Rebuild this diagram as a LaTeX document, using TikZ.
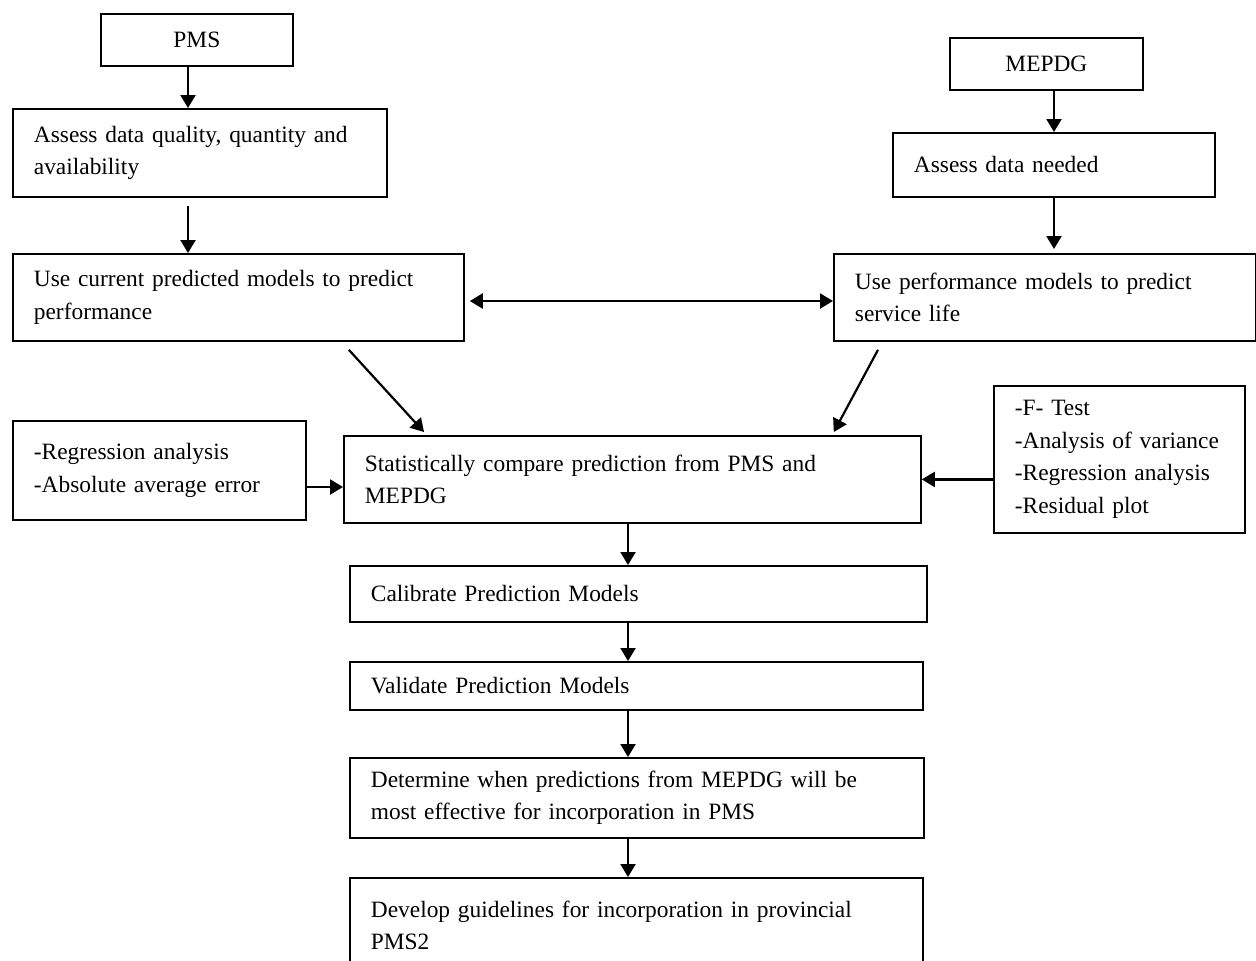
\documentclass[tikz,border=0pt]{standalone}
\usepackage{fontspec}
\setmainfont{Liberation Serif}
\usepackage{tikz}
\usetikzlibrary{positioning, arrows.meta, calc}
\hyphenpenalty=10000

\tikzset{
  box/.style={draw, line width=0.9pt, anchor=north west, align=left,
    inner xsep=10.5pt, inner ysep=0pt, minimum width=#1, text width=#1-21pt,
    font=\fontsize{11.7}{16.3}\selectfont},
  tbox/.style={draw, line width=0.9pt, anchor=north west, align=center,
    inner sep=0pt, minimum width=#1, font=\fontsize{11.7}{16.3}\selectfont},
  flow/.style={line width=1.1pt, -{Triangle[length=6.5pt, width=7.5pt]}},
  flowboth/.style={line width=1.1pt, {Triangle[length=6.5pt, width=7.5pt]}-{Triangle[length=6.5pt, width=7.5pt]}},
}

\begin{document}
\begin{tikzpicture}[x=0.5pt, y=-0.5pt]
  \useasboundingbox (0,0) rectangle (1256,960);

  \coordinate (colL) at (188,0);
  \coordinate (colR) at (1054,0);
  \coordinate (colM) at (628,0);
  \coordinate (rowA) at (0,301);
  \coordinate (rowB) at (0,487);

  % left column
  \node[tbox=96pt, minimum height=26pt] (pms) at (100,13) {PMS};
  \node[box=187pt, minimum height=44pt] (assessA) at (12,108)
    {Assess data quality, quantity and\\availability};
  \node[box=225.5pt, minimum height=43.5pt] (usecur) at (12,253)
    {Use current predicted models to predict\\performance};

  % right column
  \node[tbox=96.5pt, minimum height=26pt] (mepdg) at (949,37) {MEPDG};
  \node[box=161pt, minimum height=32pt] (needed) at (892,132) {Assess data needed};
  \node[box=211pt, minimum height=43.5pt] (useperf) at (833,253)
    {Use performance models to predict\\service life};

  % comparison
  \node[box=146.5pt, minimum height=49.5pt] (regr) at (12,420)
    {-Regression analysis\\-Absolute average error};
  \node[box=288.5pt, minimum height=43.5pt] (stat) at (343,435)
    {Statistically compare prediction from PMS and\\MEPDG};
  \node[box=125.5pt, minimum height=73.5pt] (tests) at (993,385)
    {-F- Test\\-Analysis of variance\\-Regression analysis\\-Residual plot};

  % main chain
  \node[box=288.5pt, minimum height=28pt] (calib) at (349,565) {Calibrate Prediction Models};
  \node[box=286.5pt, minimum height=24pt] (valid) at (349,661) {Validate Prediction Models};
  \node[box=287pt, minimum height=40pt] (determ) at (349,757)
    {Determine when predictions from MEPDG will be\\most effective for incorporation in PMS};
  \node[box=286.5pt, minimum height=47.5pt] (devel) at (349,877)
    {Develop guidelines for incorporation in provincial\\PMS2};

  \draw[flow] (pms.south -| colL) -- (assessA.north -| colL);
  \draw[flow] ($(assessA.south -| colL)+(0,8)$) -- (usecur.north -| colL);
  \draw[flow] (mepdg.south -| colR) -- (needed.north -| colR);
  \draw[flow] (needed.south -| colR) -- ($(useperf.north -| colR)+(0,-4)$);
  \draw[flowboth] ($(usecur.east |- rowA)+(5,0)$) -- (useperf.west |- rowA);
  \draw[flow] ($(usecur.south east)+(-116,8)$) -- ($(stat.north west)+(81,-3)$);
  \draw[flow] ($(useperf.south west)+(45,8)$) -- ($(stat.north east)+(-88,-3)$);
  \draw[flow] (regr.east |- rowB) -- (stat.west |- rowB);
  \draw[flow] (tests.west |- stat.east) -- (stat.east);
  \draw[flow] (stat.south -| colM) -- (calib.north -| colM);
  \draw[flow] (calib.south -| colM) -- (valid.north -| colM);
  \draw[flow] (valid.south -| colM) -- (determ.north -| colM);
  \draw[flow] (determ.south -| colM) -- (devel.north -| colM);
\end{tikzpicture}
\end{document}
